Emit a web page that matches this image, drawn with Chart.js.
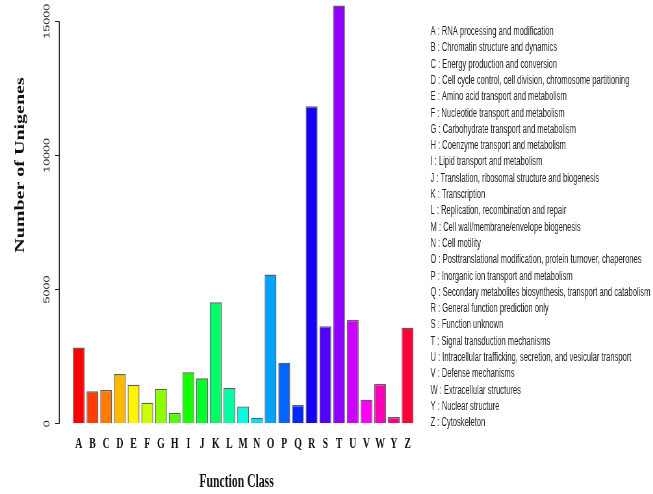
<!DOCTYPE html>
<html>
<head>
<meta charset="utf-8">
<script src="https://cdn.jsdelivr.net/npm/chart.js@4/dist/chart.umd.min.js"></script>
<style>
html, body { margin: 0; padding: 0; overflow: hidden; background: #fff; width: 653px; height: 494px; }
#c { display: block; transform: scaleX(0.6498); transform-origin: 0 0; }
</style>
</head>
<body>
<canvas id="c" width="1005" height="494"></canvas>
<script>
// ---- data ----
const categories = ['A','B','C','D','E','F','G','H','I','J','K','L','M','N','O','P','Q','R','S','T','U','V','W','Y','Z'];
const descriptions = [
  'RNA processing and modification',
  'Chromatin structure and dynamics',
  'Energy production and conversion',
  'Cell cycle control, cell division, chromosome partitioning',
  'Amino acid transport and metabolism',
  'Nucleotide transport and metabolism',
  'Carbohydrate transport and metabolism',
  'Coenzyme transport and metabolism',
  'Lipid transport and metabolism',
  'Translation, ribosomal structure and biogenesis',
  'Transcription',
  'Replication, recombination and repair',
  'Cell wall/membrane/envelope biogenesis',
  'Cell motility',
  'Posttranslational modification, protein turnover, chaperones',
  'Inorganic ion transport and metabolism',
  'Secondary metabolites biosynthesis, transport and catabolism',
  'General function prediction only',
  'Function unknown',
  'Signal transduction mechanisms',
  'Intracellular trafficking, secretion, and vesicular transport',
  'Defense mechanisms',
  'Extracellular structures',
  'Nuclear structure',
  'Cytoskeleton'
];
const counts = [2840, 1210, 1255, 1850, 1455, 785, 1295, 400, 1915, 1690, 4525, 1330, 645, 225, 5560, 2275, 695, 11830, 3630, 15585, 3870, 895, 1480, 250, 3580];
const yTicks = [0, 5000, 10000, 15000];
const xTitle = 'Function Class';
const yTitle = 'Number of Unigenes';

// ---- styles ----
const barColors = ['#FF0000','#FF3D00','#FF7A00','#FFB800','#FFF500','#CCFF00','#8FFF00','#52FF00','#14FF00','#00FF29','#00FF66','#00FFA3','#00FFE0','#00E0FF','#00A3FF','#0066FF','#0029FF','#1400FF','#5200FF','#8F00FF','#CC00FF','#FF00F5','#FF00B8','#FF007A','#FF003D'];

const W = 1005;

const overlay = {
  id: 'overlay',
  afterDraw(chart) {
    const ctx = chart.ctx;
    const ys = chart.scales.y;
    const ca = chart.chartArea;
    ctx.save();
    // y axis line from first to last tick
    ctx.strokeStyle = '#222';
    ctx.lineWidth = 1.5;
    ctx.beginPath();
    ctx.moveTo(ca.left, ys.getPixelForValue(yTicks[0]));
    ctx.lineTo(ca.left, ys.getPixelForValue(yTicks[yTicks.length - 1]));
    ctx.stroke();
    // y tick labels (rotated)
    ctx.fillStyle = '#222';
    ctx.font = '12.5px "Liberation Sans", Arial, sans-serif';
    ctx.textAlign = 'center';
    ctx.textBaseline = 'middle';
    yTicks.forEach(v => {
      ctx.save();
      ctx.translate(72.5, ys.getPixelForValue(v));
      ctx.rotate(-Math.PI / 2);
      ctx.fillText(String(v), 0, 0);
      ctx.restore();
    });
    // y title
    ctx.save();
    ctx.fillStyle = '#111';
    ctx.font = 'bold 20px "Liberation Serif", "Times New Roman", serif';
    ctx.translate(32, 165);
    ctx.rotate(-Math.PI / 2);
    ctx.fillText(yTitle, 0, 0);
    ctx.restore();
    // x title
    ctx.fillStyle = '#111';
    ctx.font = 'bold 18px "Liberation Serif", "Times New Roman", serif';
    ctx.fillText(xTitle, 364, 482);
    // legend text
    ctx.fillStyle = '#222';
    ctx.textAlign = 'left';
    ctx.font = '12px "Liberation Sans", Arial, sans-serif';
    ctx.save();
    ctx.translate(662.5, 0);
    ctx.scale(0.97, 1);
    categories.forEach((c, i) => {
      ctx.fillText(c + ' : ' + descriptions[i], 0, 31.7 + i * 16.3);
    });
    ctx.restore();
    ctx.restore();
  }
};

new Chart(document.getElementById('c'), {
  type: 'bar',
  data: {
    datasets: [{
      data: categories.map((c, i) => ({ x: i, y: counts[i] })),
      backgroundColor: barColors,
      borderColor: 'rgba(40,40,40,0.75)',
      borderWidth: 1.4,
      barPercentage: 0.86,
      categoryPercentage: 1.0
    }]
  },
  options: {
    responsive: false,
    animation: false,
    devicePixelRatio: 1,
    layout: { padding: { left: 0, right: W - 660.5, top: 0, bottom: 0 } },
    plugins: { legend: { display: false }, tooltip: { enabled: false } },
    scales: {
      x: {
        type: 'linear',
        min: -1.417,
        max: 25.58,
        offset: false,
        afterBuildTicks(scale) { scale.ticks = categories.map((c, i) => ({ value: i })); },
        afterFit(scale) { scale.height = 494 - 423.7; },
        ticks: {
          autoSkip: false,
          maxRotation: 0,
          minRotation: 0,
          padding: 11,
          color: '#111',
          font: { family: '"Liberation Serif", "Times New Roman", serif', size: 15, weight: 'bold' },
          callback: (v) => categories[Math.round(v)]
        },
        grid: { display: false, drawTicks: false },
        border: { display: false }
      },
      y: {
        min: 0,
        max: 15794,
        afterBuildTicks(scale) { scale.ticks = yTicks.map(v => ({ value: v })); },
        afterFit(scale) { scale.width = 91.3; },
        ticks: { display: false, includeBounds: false },
        grid: { drawOnChartArea: false, drawTicks: true, tickLength: 6.6, color: '#222', lineWidth: 1 },
        border: { display: false }
      }
    }
  },
  plugins: [overlay]
});
</script>
</body>
</html>
